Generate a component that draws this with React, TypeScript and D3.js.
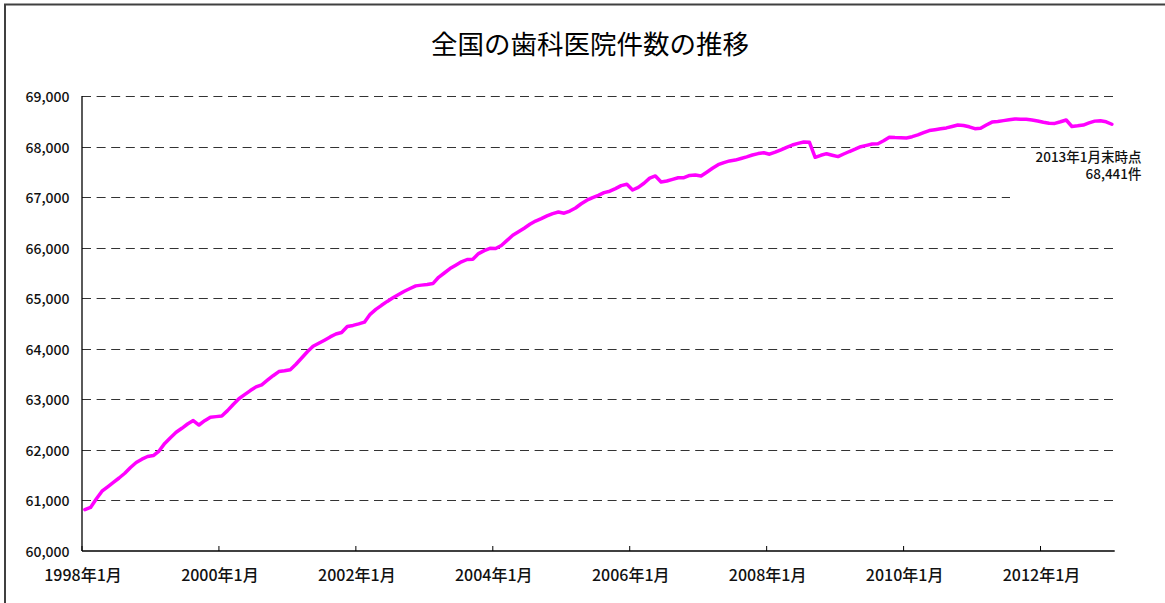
import * as d3 from "d3";

// 全国の歯科医院件数（月末時点）1998年1月〜2013年1月
const startYear = 1998;
const clinicCounts = [
  60817, 60862, 61027, 61183, 61270, 61357, 61444, 61538, 61652, 61750, 61816, 61869,
  61889, 61978, 62128, 62241, 62348, 62427, 62512, 62581, 62492, 62577, 62647, 62658,
  62670, 62777, 62898, 63011, 63092, 63173, 63246, 63287, 63378, 63467, 63549, 63564,
  63586, 63695, 63818, 63942, 64049, 64108, 64170, 64235, 64292, 64322, 64441, 64462,
  64492, 64526, 64682, 64779, 64860, 64937, 65008, 65074, 65137, 65192, 65244, 65259,
  65271, 65290, 65414, 65499, 65586, 65653, 65720, 65766, 65770, 65883, 65942, 65987,
  65983, 66043, 66144, 66245, 66314, 66385, 66462, 66527, 66575, 66628, 66674, 66705,
  66682, 66725, 66785, 66868, 66939, 66990, 67034, 67089, 67117, 67168, 67228, 67253,
  67141, 67194, 67275, 67376, 67418, 67299, 67319, 67352, 67384, 67385, 67429, 67437,
  67418, 67493, 67570, 67641, 67683, 67716, 67732, 67764, 67797, 67833, 67861, 67878,
  67849, 67888, 67934, 67983, 68031, 68062, 68090, 68085, 67787, 67827, 67859, 67829,
  67801, 67853, 67902, 67948, 67997, 68023, 68050, 68056, 68114, 68183, 68177, 68175,
  68170, 68195, 68230, 68274, 68316, 68333, 68351, 68369, 68397, 68426, 68416, 68391,
  68353, 68361, 68426, 68484, 68497, 68513, 68531, 68545, 68541, 68539, 68525, 68505,
  68480, 68460, 68458, 68490, 68525, 68397, 68410, 68426, 68468, 68503, 68511, 68490,
  68441,
];
const yTicks = [60000, 61000, 62000, 63000, 64000, 65000, 66000, 67000, 68000, 69000];
const xTickLabels = ["1998年1月", "2000年1月", "2002年1月", "2004年1月", "2006年1月", "2008年1月", "2010年1月", "2012年1月"];
const title = "全国の歯科医院件数の推移";
const noteLines = ["2013年1月末時点", "68,441件"];

const W = 1165;
const H = 603;
const font = '"Noto Sans CJK JP", "Noto Sans", sans-serif';

export default function App() {
  const months = clinicCounts.map((_, i) => {
    const y = startYear + Math.floor(i / 12);
    const m = (i % 12) + 1;
    return `${y}年${m}月`;
  });

  const x = d3.scaleBand<string>().domain(months).range([82, 1114.7]).padding(0);
  const y = d3.scaleLinear().domain([60000, 69000]).range([551, 96]);
  const cx = (m: string) => (x(m) ?? 0) + x.bandwidth() / 2;

  const line = d3
    .line<number>()
    .x((_, i) => cx(months[i]))
    .y((d) => y(d));

  const [left, right] = x.range();

  return (
    <svg
      width={W}
      height={H}
      style={{ position: "absolute", left: 0, top: 0, background: "#fff" }}
      fontFamily={font}
    >
      <rect x={0} y={0} width={W} height={H} fill="#fff" />
      {/* chart frame */}
      <rect x={5} y={4.5} width={1400} height={800} fill="none" stroke="#404040" strokeWidth={2} />

      <text x={590} y={42} textAnchor="middle" dominantBaseline="central" fontSize={26.5} fill="#000">
        {title}
      </text>

      {/* gridlines */}
      {yTicks.slice(1).map((t) => (
        <line
          key={t}
          x1={left}
          x2={right}
          y1={Math.round(y(t)) + 0.5}
          y2={Math.round(y(t)) + 0.5}
          stroke="#333"
          strokeWidth={1}
          strokeDasharray="9,5.6"
        />
      ))}

      {/* note box hides part of the gridline */}
      <rect x={1010} y={149} width={140} height={54} fill="#fff" />

      {/* y axis */}
      <line x1={left} x2={left} y1={y(69000)} y2={y(60000)} stroke="#000" strokeWidth={1.3} />
      {yTicks.map((t) => (
        <text key={t} x={69.5} y={y(t)} textAnchor="end" dominantBaseline="central" fontSize={14} fontWeight={500} fill="#111">
          {d3.format(",")(t)}
        </text>
      ))}

      {/* x axis */}
      <line x1={left} x2={right} y1={y(60000)} y2={y(60000)} stroke="#000" strokeWidth={1.3} />
      {xTickLabels.map((lab) => {
        const tx = x(lab) ?? 0;
        return (
          <g key={lab}>
            <line x1={tx} x2={tx} y1={y(60000)} y2={y(60000) - 5} stroke="#000" strokeWidth={1} />
            <text x={tx + 1} y={574} textAnchor="middle" dominantBaseline="central" fontSize={16} fontWeight={500} fill="#111">
              {lab}
            </text>
          </g>
        );
      })}

      <path
        d={line(clinicCounts) ?? ""}
        fill="none"
        stroke="#ff00ff"
        strokeWidth={3.5}
        strokeLinejoin="round"
        strokeLinecap="round"
      />

      <text x={1141.5} y={162} textAnchor="end" fontSize={13.5} fontWeight={500} fill="#111">
        {noteLines.map((t, i) => (
          <tspan key={t} x={1141.5} dy={i === 0 ? 0 : 16.5}>
            {t}
          </tspan>
        ))}
      </text>
    </svg>
  );
}
